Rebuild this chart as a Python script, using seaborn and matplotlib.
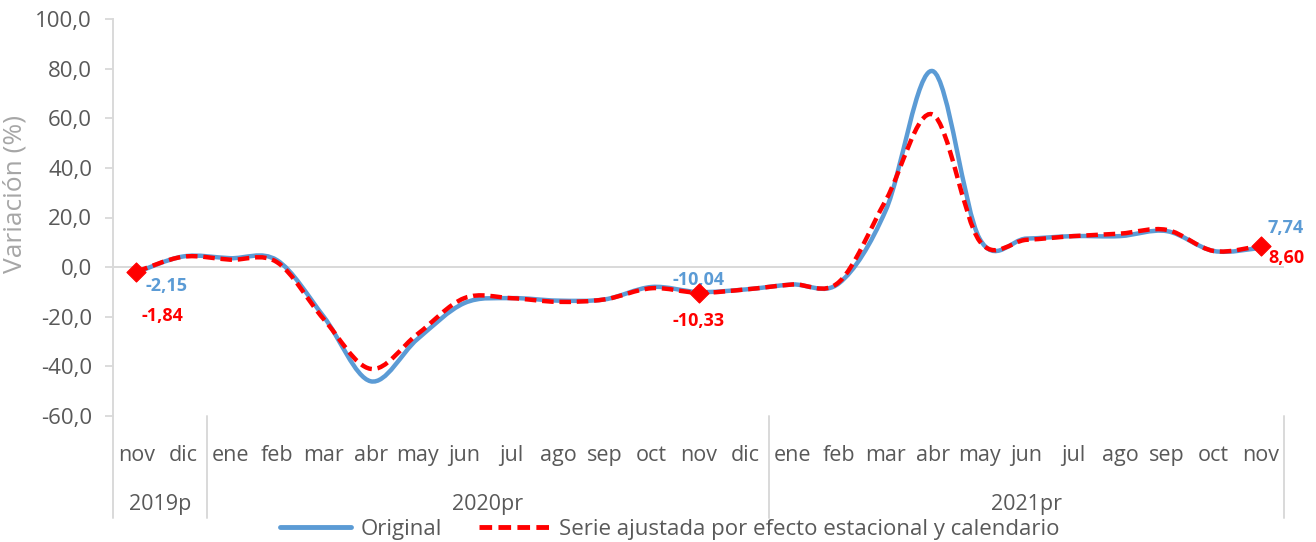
import numpy as np
import pandas as pd
import matplotlib
matplotlib.use("Agg")
import matplotlib.pyplot as plt
from matplotlib.path import Path
from matplotlib.patches import PathPatch
from matplotlib.lines import Line2D
import seaborn as sns

# Datos
meses = ["nov", "dic",
         "ene", "feb", "mar", "abr", "may", "jun", "jul", "ago", "sep", "oct", "nov", "dic",
         "ene", "feb", "mar", "abr", "may", "jun", "jul", "ago", "sep", "oct", "nov"]
anios = ["2019p", "2020pr", "2021pr"]
original = [-2.15, 4.3, 3.6, 2.8, -20.0, -46.0, -29.0, -14.5, -12.5, -13.5, -13.0, -8.0, -10.04,
            -9.0, -7.0, -6.5, 23.0, 79.0, 11.5, 11.5, 12.5, 12.5, 14.5, 6.5, 7.74]
ajustada = [-1.84, 4.2, 3.0, 2.0, -21.0, -41.0, -27.0, -12.5, -12.5, -14.0, -13.0, -8.5, -10.33,
            -9.0, -7.0, -6.0, 27.0, 61.5, 10.5, 11.0, 12.5, 13.5, 15.0, 6.5, 8.60]
destacados = [0, 12, 24]  # nov 2019, nov 2020, nov 2021

AZUL = "#5B9BD5"
ROJO = "#FF0000"
GRIS = "#D9D9D9"
TEXTO = "#595959"


def smooth_path(xs, ys):
    # curva suavizada tipo Excel (Catmull-Rom convertida a Bezier cúbica)
    pts = np.column_stack([xs, ys]).astype(float)
    ext = np.vstack([pts[0], pts, pts[-1]])
    verts = [tuple(pts[0])]
    codes = [Path.MOVETO]
    for i in range(1, len(ext) - 2):
        p0, p1, p2, p3 = ext[i - 1], ext[i], ext[i + 1], ext[i + 2]
        c1 = p1 + (p2 - p0) / 6.0
        c2 = p2 - (p3 - p1) / 6.0
        verts += [tuple(c1), tuple(c2), tuple(p2)]
        codes += [Path.CURVE4] * 3
    return Path(verts, codes)


sns.set_theme(style="white")
plt.rcParams["font.family"] = ["Open Sans", "DejaVu Sans"]

df = pd.DataFrame({"x": np.arange(len(meses)), "original": original, "ajustada": ajustada})

fig = plt.figure(figsize=(13.16, 5.42), dpi=100)
ax = fig.add_axes([113 / 1316, 126 / 542, 1171 / 1316, 397 / 542])

ax.axhline(0, color=GRIS, lw=1.4, zorder=1)

ax.add_patch(PathPatch(smooth_path(df["x"], df["original"]), fill=False,
                       edgecolor=AZUL, lw=3.2, capstyle="round", zorder=3))
ax.add_patch(PathPatch(smooth_path(df["x"], df["ajustada"]), fill=False,
                       edgecolor=ROJO, lw=3.2, linestyle=(0, (2.6, 1.3)), zorder=4))

sns.scatterplot(data=df.iloc[destacados], x="x", y="ajustada", marker="D", s=95,
                color=ROJO, edgecolor=ROJO, zorder=5, ax=ax, legend=False)

ax.set_xlim(-0.5, len(meses) - 0.5)
ax.set_ylim(-60, 100)
ax.set_yticks(np.arange(-60, 101, 20))
ax.set_yticklabels([f"{v:.1f}".replace(".", ",") for v in np.arange(-60, 101, 20)])
ax.set_xticks(df["x"])
ax.set_xticklabels(meses)
ax.tick_params(axis="y", length=6, width=1.3, color=GRIS, pad=9, labelsize=16, labelcolor=TEXTO, left=True)
ax.tick_params(axis="x", length=0, pad=21, labelsize=15.5, labelcolor=TEXTO)
ax.set_xlabel("")
ax.set_ylabel("Variación (%)", fontsize=19, color="#A6A6A6")
ax.yaxis.set_label_coords(-0.073, 0.56)

for s in ["top", "right", "bottom"]:
    ax.spines[s].set_visible(False)
ax.spines["left"].set_color(GRIS)
ax.spines["left"].set_linewidth(1.4)

# separadores de años en el eje de categorías
ax.axvline(-0.5, ymin=-0.257, ymax=0, color=GRIS, lw=1.4, clip_on=False)
for xs in [1.5, 13.5, 24.5]:
    ax.axvline(xs, ymin=-0.257, ymax=0, color=GRIS, lw=1.4, clip_on=False)

for xc, lab in zip([0.5, 7.5, 19.0], anios):
    ax.text(xc, -0.222, lab, transform=ax.get_xaxis_transform(), ha="center", va="center",
            fontsize=15.5, color=TEXTO)

# etiquetas de datos
lab_kw = dict(fontsize=13, fontweight="bold", va="center")
ax.annotate("-2,15", (0, original[0]), xytext=(9, -14), textcoords="offset pixels", color=AZUL, ha="left", **lab_kw)
ax.annotate("-1,84", (0, ajustada[0]), xytext=(5, -44), textcoords="offset pixels", color=ROJO, ha="left", **lab_kw)
ax.annotate("-10,04", (12, original[12]), xytext=(0, 12), textcoords="offset pixels", color=AZUL, ha="center", **lab_kw)
ax.annotate("-10,33", (12, ajustada[12]), xytext=(0, -28), textcoords="offset pixels", color=ROJO, ha="center", **lab_kw)
ax.annotate("7,74", (24, original[24]), xytext=(25, 20), textcoords="offset pixels", color=AZUL, ha="center", **lab_kw)
ax.annotate("8,60", (24, ajustada[24]), xytext=(26, -12), textcoords="offset pixels", color=ROJO, ha="center", **lab_kw)

handles = [Line2D([], [], color=AZUL, lw=3.5),
           Line2D([], [], color=ROJO, lw=3.5, linestyle=(0, (2.6, 1.3)))]
fig.legend(handles, ["Original", "Serie ajustada por efecto estacional y calendario"],
           loc="center", bbox_to_anchor=(670 / 1316, 1 - 529 / 542), ncol=2, frameon=False,
           fontsize=16, handlelength=3.2, handletextpad=0.4, columnspacing=1.7,
           labelcolor=TEXTO)

fig.savefig("out.png", dpi=100)
